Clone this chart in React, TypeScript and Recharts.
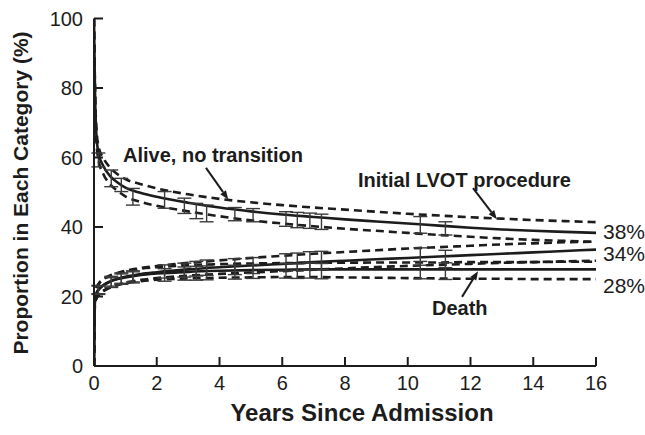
import React from 'react';
import {
  ComposedChart,
  Line,
  Scatter,
  ErrorBar,
  XAxis,
  YAxis,
  ReferenceLine,
  Customized,
} from 'recharts';

// time grid for the parametric curves (years)
const times = [0, 0.03, 0.08, 0.15, 0.3, 0.5, 0.75, 1, 1.5, 2, 3, 4, 5, 6, 7, 8, 9, 10, 11, 12, 13, 14, 15, 16];

const aliveMid = [100, 80, 66, 61, 57.5, 54.8, 52.8, 51.3, 49.8, 48.7, 47.0, 45.6, 44.5, 43.6, 42.9, 42.2, 41.6, 41.0, 40.4, 39.8, 39.3, 38.9, 38.6, 38.3];
const aliveHi = [100, 81, 68, 63, 59.8, 57.2, 55.2, 53.8, 52.3, 51.1, 49.4, 48.1, 47.1, 46.3, 45.6, 45.0, 44.4, 43.8, 43.3, 42.8, 42.4, 42.0, 41.7, 41.4];
const aliveLo = [100, 79, 64, 59, 55.2, 52.4, 50.4, 48.8, 47.2, 46.1, 44.5, 43.1, 41.9, 41.0, 40.2, 39.5, 38.9, 38.3, 37.7, 37.2, 36.7, 36.3, 36.0, 35.7];

const lvotMid = [0, 19, 21, 22, 23.3, 24.3, 25.1, 25.7, 26.5, 27.0, 27.8, 28.4, 28.9, 29.4, 29.9, 30.3, 30.7, 31.1, 31.5, 31.9, 32.3, 32.7, 33.1, 33.5];
const lvotHi = [0, 20, 22.5, 23.7, 25, 26, 26.8, 27.4, 28.2, 28.8, 29.7, 30.4, 31.1, 31.7, 32.3, 32.8, 33.3, 33.8, 34.2, 34.6, 35.0, 35.3, 35.6, 35.8];
const lvotLo = [0, 18, 19.5, 20.5, 21.7, 22.6, 23.4, 24.0, 24.8, 25.3, 26.0, 26.5, 26.9, 27.3, 27.7, 28.1, 28.5, 28.8, 29.1, 29.4, 29.7, 29.9, 30.1, 30.3];

const deathMid = [0, 19, 21, 22, 23.2, 24.2, 25.0, 25.5, 26.2, 26.6, 27.1, 27.4, 27.6, 27.7, 27.8, 27.8, 27.8, 27.8, 27.8, 27.8, 27.8, 27.8, 27.8, 27.8];
const deathHi = [0, 20, 22.5, 23.6, 24.9, 25.9, 26.7, 27.2, 28.0, 28.4, 29.0, 29.3, 29.5, 29.6, 29.7, 29.7, 29.8, 29.8, 29.8, 29.9, 29.9, 29.9, 30.0, 30.0];
const deathLo = [0, 18, 19.5, 20.4, 21.5, 22.5, 23.3, 23.8, 24.4, 24.8, 25.2, 25.4, 25.5, 25.6, 25.6, 25.5, 25.4, 25.3, 25.2, 25.1, 25.1, 25.0, 25.0, 25.0];

// nonparametric estimates with error bars
const estT = [0.14, 0.55, 0.87, 1.24, 2.25, 2.88, 3.26, 3.59, 4.49, 5.07, 6.12, 6.48, 6.88, 7.25, 10.4, 11.2];
const aliveEst = [59.3, 54.0, 52.1, 48.7, 47.8, 46.1, 44.6, 43.9, 43.7, 43.4, 42.3, 42.0, 41.8, 41.5, 40.6, 39.6];
const aliveErr = [2.0, 2.4, 1.9, 2.4, 2.4, 2.2, 2.2, 2.4, 1.9, 1.9, 2.1, 2.2, 2.2, 2.2, 2.4, 1.9];
const lvotEst = [22.0, 24.4, 25.3, 25.8, 27.2, 27.6, 28.0, 28.3, 28.6, 28.9, 29.8, 30.0, 30.3, 30.4, 31.5, 30.8];
const lvotErr = [1.2, 1.4, 1.5, 1.6, 1.9, 2.0, 2.1, 2.2, 2.3, 2.3, 2.5, 2.5, 2.6, 2.6, 2.5, 2.5];
const deathEst = [21.8, 24.0, 25.0, 25.5, 26.2, 26.6, 26.7, 26.8, 27.0, 27.2, 27.4, 27.3, 27.5, 27.3, 27.6, 27.3];
const deathErr = [1.2, 1.4, 1.5, 1.6, 1.8, 1.9, 2.0, 2.0, 2.0, 2.0, 2.1, 2.1, 2.2, 2.2, 2.5, 2.4];

const xTicks = [0, 2, 4, 6, 8, 10, 12, 14, 16];
const yTicks = [0, 20, 40, 60, 80, 100];
const endLabels = ['38%', '34%', '28%'];

// annotation arrows [x1, y1, x2, y2] in data units
const aliveArrow = [3.57, 57.0, 4.28, 47.9];
const lvotArrow = [12.08, 51.2, 12.84, 42.2];
const deathArrow = [11.73, 19.9, 12.24, 27.3];

const data = times.map((t, i) => ({
  t,
  aliveMid: aliveMid[i],
  aliveHi: aliveHi[i],
  aliveLo: aliveLo[i],
  lvotMid: lvotMid[i],
  lvotHi: lvotHi[i],
  lvotLo: lvotLo[i],
  deathMid: deathMid[i],
  deathHi: deathHi[i],
  deathLo: deathLo[i],
}));

const toPoints = (ys: number[], errs: number[]) =>
  estT.map((t, i) => ({ t, y: ys[i], err: errs[i] }));

const INK = '#1c1c1c';
const FONT = '"Liberation Sans", Arial, Helvetica, sans-serif';

// ticks point inward, labels stay outside
const YTick = ({ x, y, payload }: any) => (
  <g>
    <rect x={x + 11} y={y - 1} width={9} height={2} fill={INK} />
    <text x={x} y={y} dy="0.35em" textAnchor="end" fontSize={20} fontFamily={FONT} fill={INK}>
      {payload.value}
    </text>
  </g>
);

const XTick = ({ x, y, payload }: any) => (
  <g>
    <rect x={x - 1} y={y - 19} width={2} height={9} fill={INK} />
    <text x={x} y={y} dy="0.71em" textAnchor="middle" fontSize={20} fontFamily={FONT} fill={INK}>
      {payload.value}
    </text>
  </g>
);

const ArrowShape = (props: any) => {
  const { x1, y1, x2, y2 } = props;
  const a = Math.atan2(y2 - y1, x2 - x1);
  const len = 9;
  const w = 3.5;
  const bx = x2 - len * Math.cos(a);
  const by = y2 - len * Math.sin(a);
  const px = -Math.sin(a) * w;
  const py = Math.cos(a) * w;
  return (
    <g>
      <line x1={x1} y1={y1} x2={bx} y2={by} stroke={INK} strokeWidth={2} />
      <polygon points={`${x2},${y2} ${bx + px},${by + py} ${bx - px},${by - py}`} fill={INK} />
    </g>
  );
};

const Texts = () => (
  <g fontFamily={FONT} fill={INK}>
    <text x={123} y={162} fontSize={20} fontWeight="bold">Alive, no transition</text>
    <text x={358} y={187} fontSize={20} fontWeight="bold">Initial LVOT procedure</text>
    <text x={432} y={315} fontSize={20} fontWeight="bold">Death</text>
    <text x={603} y={239} fontSize={21}>{endLabels[0]}</text>
    <text x={603} y={261} fontSize={21}>{endLabels[1]}</text>
    <text x={603} y={293} fontSize={21}>{endLabels[2]}</text>
    <text x={362} y={421} fontSize={24} fontWeight="bold" textAnchor="middle">
      Years Since Admission
    </text>
    <text
      x={0}
      y={0}
      fontSize={21}
      fontWeight="bold"
      textAnchor="middle"
      transform="translate(28,193) rotate(-90)"
    >
      Proportion in Each Category (%)
    </text>
  </g>
);

const solid = { stroke: INK, strokeWidth: 2.6, dot: false, isAnimationActive: false, type: 'monotone' as const };
const dashed = { ...solid, strokeDasharray: '8 5' };

const noShape = () => <g />;

export default function App() {
  return (
    <div style={{ position: 'absolute', left: 0, top: 0, background: '#fff' }}>
      <ComposedChart
        width={645}
        height={435}
        data={data}
        margin={{ top: 18.5, right: 49, left: 0, bottom: 0 }}
      >
        <XAxis
          type="number"
          dataKey="t"
          domain={[0, 16]}
          ticks={xTicks}
          allowDataOverflow
          height={69}
          tickSize={0}
          tickMargin={10}
          axisLine={{ stroke: INK, strokeWidth: 2 }}
          tickLine={false}
          tick={<XTick />}
        />
        <YAxis
          type="number"
          domain={[0, 100]}
          ticks={yTicks}
          width={94}
          tickSize={0}
          tickMargin={11}
          axisLine={{ stroke: INK, strokeWidth: 2 }}
          tickLine={false}
          tick={<YTick />}
        />

        <Line dataKey="aliveHi" {...dashed} />
        <Line dataKey="aliveLo" {...dashed} />
        <Line dataKey="lvotHi" {...dashed} />
        <Line dataKey="lvotLo" {...dashed} />
        <Line dataKey="deathHi" {...dashed} />
        <Line dataKey="deathLo" {...dashed} />
        <Line dataKey="aliveMid" {...solid} />
        <Line dataKey="lvotMid" {...solid} />
        <Line dataKey="deathMid" {...solid} />

        <Scatter data={toPoints(aliveEst, aliveErr)} dataKey="y" shape={noShape} isAnimationActive={false}>
          <ErrorBar dataKey="err" direction="y" width={7} stroke="#3a3a3a" strokeWidth={1.4} isAnimationActive={false} />
        </Scatter>
        <Scatter data={toPoints(lvotEst, lvotErr)} dataKey="y" shape={noShape} isAnimationActive={false}>
          <ErrorBar dataKey="err" direction="y" width={7} stroke="#3a3a3a" strokeWidth={1.4} isAnimationActive={false} />
        </Scatter>
        <Scatter data={toPoints(deathEst, deathErr)} dataKey="y" shape={noShape} isAnimationActive={false}>
          <ErrorBar dataKey="err" direction="y" width={7} stroke="#3a3a3a" strokeWidth={1.4} isAnimationActive={false} />
        </Scatter>

        <ReferenceLine
          segment={[{ x: aliveArrow[0], y: aliveArrow[1] }, { x: aliveArrow[2], y: aliveArrow[3] }]}
          shape={ArrowShape}
        />
        <ReferenceLine
          segment={[{ x: lvotArrow[0], y: lvotArrow[1] }, { x: lvotArrow[2], y: lvotArrow[3] }]}
          shape={ArrowShape}
        />
        <ReferenceLine
          segment={[{ x: deathArrow[0], y: deathArrow[1] }, { x: deathArrow[2], y: deathArrow[3] }]}
          shape={ArrowShape}
        />

        <Customized component={<Texts />} />
      </ComposedChart>
    </div>
  );
}
